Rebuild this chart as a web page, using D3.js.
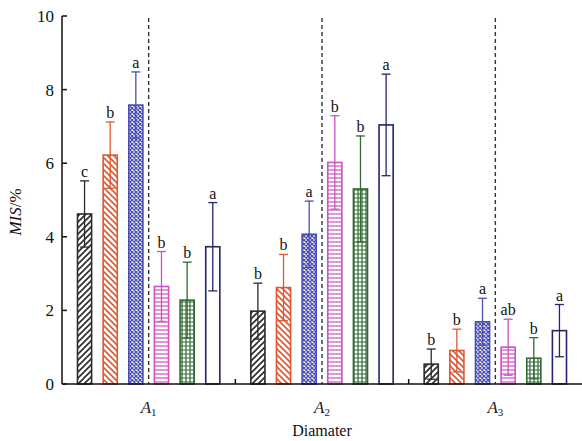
<!DOCTYPE html>
<html>
<head>
<meta charset="utf-8">
<script src="https://cdn.jsdelivr.net/npm/d3@7"></script>
<style>
  body { margin: 0; background: #fff; }
  svg text { font-family: "Liberation Serif", "DejaVu Serif", serif; }
</style>
</head>
<body>
<div id="chart"></div>
<script>
// group names on the x axis and the six treatments in each group
var groups = ["A1", "A2", "A3"];
var series = ["s1", "s2", "s3", "s4", "s5", "s6"];

// mean MIS (%) per series, one value per group
var means = {
  s1: [4.62, 1.98, 0.54],
  s2: [6.22, 2.62, 0.91],
  s3: [7.58, 4.07, 1.69],
  s4: [2.65, 6.02, 1.00],
  s5: [2.28, 5.30, 0.70],
  s6: [3.73, 7.04, 1.45]
};
// error bar half length
var errs = {
  s1: [0.90, 0.76, 0.41],
  s2: [0.90, 0.90, 0.58],
  s3: [0.90, 0.90, 0.64],
  s4: [0.95, 1.27, 0.76],
  s5: [1.03, 1.44, 0.56],
  s6: [1.20, 1.38, 0.71]
};
// significance letters
var letters = {
  s1: ["c", "b", "b"],
  s2: ["b", "b", "b"],
  s3: ["a", "a", "a"],
  s4: ["b", "b", "ab"],
  s5: ["b", "b", "b"],
  s6: ["a", "a", "a"]
};
var yTicks = [0, 2, 4, 6, 8, 10];

var colors = {s1: "#2b2b2b", s2: "#e2552f", s3: "#4a4fb8", s4: "#cf4fc4", s5: "#2f6a32", s6: "#23246e"};

var width = 582, height = 441;
var mLeft = 62, mRight = 582, mTop = 16, mBottom = 384;

var svg = d3.select("#chart").append("svg")
  .attr("width", width)
  .attr("height", height);

// hatch patterns
var defs = svg.append("defs");
function pattern(id, size, color, draw) {
  var p = defs.append("pattern")
    .attr("id", id)
    .attr("patternUnits", "userSpaceOnUse")
    .attr("width", size).attr("height", size);
  p.append("rect").attr("width", size).attr("height", size).attr("fill", "#fff");
  draw(p, color);
}
pattern("p-s1", 6, colors.s1, function(p, c) {
  p.append("path").attr("d", "M-1,1 l2,-2 M0,6 l6,-6 M5,7 l2,-2")
    .attr("stroke", c).attr("stroke-width", 1.6);
});
pattern("p-s2", 6, colors.s2, function(p, c) {
  p.append("path").attr("d", "M-1,5 l2,2 M0,0 l6,6 M5,-1 l2,2")
    .attr("stroke", c).attr("stroke-width", 1.6);
});
pattern("p-s3", 4, colors.s3, function(p, c) {
  p.append("path").attr("d", "M0,0 l4,4 M4,0 l-4,4")
    .attr("stroke", c).attr("stroke-width", 1.3);
});
pattern("p-s4", 4, colors.s4, function(p, c) {
  p.append("path").attr("d", "M0,2 h4").attr("stroke", c).attr("stroke-width", 1.2);
});
pattern("p-s5", 4, colors.s5, function(p, c) {
  p.append("path").attr("d", "M0,2 h4 M2,0 v4").attr("stroke", c).attr("stroke-width", 1.2);
});

var y = d3.scaleLinear().domain([0, 10]).range([mBottom, mTop]);
var x0 = d3.scaleBand().domain(groups).range([mLeft, mRight]);
var x1 = d3.scaleBand().domain(series)
  .range([15.5, x0.bandwidth() - 15.5])
  .paddingInner(0.45);

function midX(g) {
  return x0(g) + (x1("s3") + x1.bandwidth() + x1("s4")) / 2;
}

// dashed separators between 3rd and 4th bars
groups.forEach(function(g) {
  var xm = midX(g);
  svg.append("line")
    .attr("x1", xm).attr("x2", xm)
    .attr("y1", mTop + 2).attr("y2", mBottom)
    .attr("stroke", "#333").attr("stroke-width", 1.4)
    .attr("stroke-dasharray", "4,3");
});

// bars, error bars, letters
series.forEach(function(s) {
  groups.forEach(function(g, i) {
    var v = means[s][i], e = errs[s][i];
    var bx = x0(g) + x1(s), bw = x1.bandwidth();
    var cx = bx + bw / 2;
    svg.append("rect")
      .attr("x", bx).attr("y", y(v))
      .attr("width", bw).attr("height", y(0) - y(v))
      .attr("fill", s === "s6" ? "#fff" : "url(#p-" + s + ")")
      .attr("stroke", colors[s]).attr("stroke-width", 1.6);
    var eb = svg.append("g").attr("stroke", colors[s]).attr("stroke-width", 1.3);
    eb.append("line").attr("x1", cx).attr("x2", cx).attr("y1", y(v - e)).attr("y2", y(v + e));
    eb.append("line").attr("x1", cx - 4.5).attr("x2", cx + 4.5).attr("y1", y(v + e)).attr("y2", y(v + e));
    eb.append("line").attr("x1", cx - 4.5).attr("x2", cx + 4.5).attr("y1", y(v - e)).attr("y2", y(v - e));
    svg.append("text")
      .attr("x", cx).attr("y", y(v + e) - 4)
      .attr("text-anchor", "middle")
      .attr("font-size", 16)
      .attr("fill", "#111")
      .text(letters[s][i]);
  });
});

// y axis
svg.append("line")
  .attr("x1", mLeft).attr("x2", mLeft).attr("y1", mTop).attr("y2", mBottom)
  .attr("stroke", "#111").attr("stroke-width", 1.5);
yTicks.forEach(function(t) {
  svg.append("line")
    .attr("x1", mLeft).attr("x2", mLeft + 5).attr("y1", y(t)).attr("y2", y(t))
    .attr("stroke", "#111").attr("stroke-width", 1.5);
  svg.append("text")
    .attr("x", mLeft - 8).attr("y", y(t) + 6)
    .attr("text-anchor", "end")
    .attr("font-size", 17)
    .attr("fill", "#111")
    .text(t);
});

// x axis
svg.append("line")
  .attr("x1", mLeft).attr("x2", mRight).attr("y1", mBottom).attr("y2", mBottom)
  .attr("stroke", "#111").attr("stroke-width", 1.5);
groups.slice(1).forEach(function(g) {
  svg.append("line")
    .attr("x1", x0(g)).attr("x2", x0(g)).attr("y1", mBottom).attr("y2", mBottom - 5)
    .attr("stroke", "#111").attr("stroke-width", 1.5);
});
groups.forEach(function(g) {
  var t = svg.append("text")
    .attr("x", midX(g)).attr("y", 413)
    .attr("text-anchor", "middle")
    .attr("font-size", 17)
    .attr("fill", "#222");
  t.append("tspan").attr("font-style", "italic").text(g.charAt(0));
  t.append("tspan").attr("font-size", 11).attr("dy", 3).text(g.slice(1));
});

svg.append("text")
  .attr("x", x0("A2") + x0.bandwidth() / 2).attr("y", 436)
  .attr("text-anchor", "middle")
  .attr("font-size", 16)
  .attr("fill", "#111")
  .text("Diamater");

var yl = svg.append("text")
  .attr("transform", "translate(21,212) rotate(-90)")
  .attr("text-anchor", "middle")
  .attr("font-size", 17)
  .attr("fill", "#111");
yl.append("tspan").attr("font-style", "italic").text("MIS");
yl.append("tspan").text("/%");
</script>
</body>
</html>
